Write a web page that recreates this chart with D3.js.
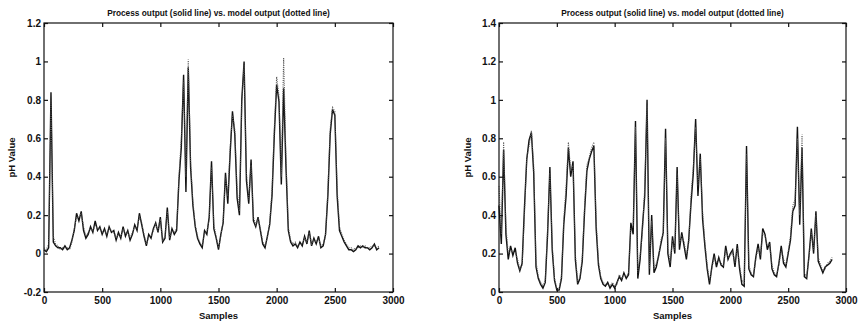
<!DOCTYPE html>
<html>
<head>
<meta charset="utf-8">
<script src="https://cdn.jsdelivr.net/npm/d3@7"></script>
<style>
  body { margin: 0; background: #fff; }
  svg { display: block; }
  text { font-family: "Liberation Sans", Arial, sans-serif; fill: #111; }
</style>
</head>
<body>
<svg id="chart" width="858" height="324"></svg>
<script>
// sample spacing of the values below
const sampleStep = 20;

// left panel
const leftProcess = [
  0.02,0.01,0.03,0.84,0.06,0.04,0.03,0.03,0.02,0.04,
  0.02,0.03,0.07,0.12,0.21,0.17,0.22,0.12,0.08,0.10,
  0.14,0.11,0.17,0.12,0.14,0.10,0.13,0.09,0.14,0.11,
  0.12,0.07,0.11,0.08,0.14,0.09,0.12,0.07,0.10,0.15,
  0.12,0.21,0.15,0.09,0.04,0.10,0.08,0.13,0.16,0.11,
  0.19,0.06,0.08,0.24,0.07,0.13,0.10,0.12,0.38,0.55,
  0.93,0.32,0.97,0.45,0.25,0.14,0.08,0.05,0.03,0.12,
  0.10,0.19,0.48,0.13,0.08,0.02,0.10,0.16,0.42,0.26,
  0.52,0.74,0.62,0.29,0.20,0.80,1.00,0.38,0.26,0.49,
  0.17,0.14,0.19,0.12,0.05,0.03,0.09,0.15,0.30,0.62,
  0.88,0.79,0.36,0.86,0.45,0.12,0.06,0.04,0.05,0.03,
  0.06,0.04,0.09,0.05,0.12,0.04,0.08,0.05,0.09,0.03,
  0.04,0.10,0.30,0.62,0.75,0.72,0.30,0.12,0.09,0.06,
  0.04,0.02,0.02,0.01,0.02,0.04,0.03,0.04,0.03,0.03,
  0.02,0.03,0.05,0.02,0.03
];
const leftModel = [
  0.03,0.02,0.05,0.80,0.09,0.05,0.04,0.02,0.03,0.03,
  0.03,0.02,0.06,0.13,0.19,0.19,0.21,0.14,0.09,0.11,
  0.13,0.12,0.15,0.13,0.13,0.11,0.12,0.10,0.13,0.12,
  0.11,0.08,0.10,0.09,0.13,0.10,0.11,0.08,0.11,0.14,
  0.13,0.19,0.16,0.10,0.05,0.09,0.09,0.12,0.15,0.12,
  0.18,0.07,0.09,0.22,0.08,0.12,0.11,0.13,0.40,0.60,
  0.90,0.40,1.01,0.48,0.27,0.15,0.09,0.06,0.04,0.11,
  0.11,0.18,0.45,0.15,0.09,0.03,0.09,0.17,0.40,0.30,
  0.55,0.72,0.65,0.33,0.22,0.78,0.98,0.42,0.28,0.46,
  0.19,0.15,0.18,0.13,0.06,0.04,0.08,0.16,0.33,0.66,
  0.92,0.82,0.40,1.02,0.50,0.14,0.07,0.05,0.06,0.04,
  0.05,0.05,0.08,0.06,0.11,0.05,0.07,0.06,0.08,0.04,
  0.05,0.09,0.33,0.65,0.76,0.74,0.34,0.14,0.10,0.07,
  0.05,0.03,0.03,0.02,0.03,0.03,0.04,0.03,0.04,0.03,
  0.03,0.04,0.04,0.03,0.04
];
const leftYTicks = [-0.2, 0, 0.2, 0.4, 0.6, 0.8, 1, 1.2];
const leftYLabels = ["-0.2", "0", "0.2", "0.4", "0.6", "0.8", "1", "1.2"];

// right panel
const rightProcess = [
  0.45,0.25,0.74,0.30,0.17,0.24,0.19,0.23,0.15,0.11,
  0.15,0.44,0.69,0.79,0.83,0.62,0.13,0.07,0.04,0.02,
  0.05,0.30,0.65,0.22,0.06,0.01,0.01,0.07,0.35,0.50,
  0.75,0.60,0.68,0.17,0.04,0.07,0.16,0.42,0.63,0.69,
  0.73,0.76,0.33,0.14,0.07,0.04,0.03,0.05,0.02,0.04,
  0.02,0.05,0.08,0.06,0.10,0.07,0.09,0.36,0.30,0.89,
  0.07,0.17,0.34,0.50,1.00,0.09,0.40,0.10,0.13,0.19,
  0.25,0.31,0.85,0.20,0.13,0.29,0.20,0.65,0.22,0.31,
  0.24,0.17,0.27,0.46,0.62,0.90,0.50,0.72,0.38,0.24,
  0.12,0.04,0.13,0.20,0.13,0.18,0.14,0.13,0.24,0.17,
  0.20,0.22,0.13,0.25,0.12,0.04,0.03,0.76,0.12,0.09,
  0.08,0.18,0.25,0.17,0.33,0.30,0.22,0.26,0.12,0.09,
  0.08,0.15,0.24,0.15,0.13,0.20,0.27,0.42,0.45,0.86,
  0.35,0.75,0.08,0.07,0.19,0.33,0.20,0.42,0.16,0.13,
  0.10,0.13,0.14,0.15,0.17
];
const rightModel = [
  0.55,0.30,0.78,0.34,0.20,0.22,0.21,0.21,0.17,0.12,
  0.14,0.40,0.70,0.76,0.84,0.66,0.16,0.08,0.05,0.03,
  0.06,0.33,0.62,0.25,0.07,0.02,0.02,0.08,0.38,0.55,
  0.78,0.63,0.66,0.20,0.05,0.08,0.18,0.45,0.66,0.70,
  0.75,0.78,0.37,0.16,0.08,0.05,0.04,0.04,0.03,0.05,
  0.03,0.04,0.09,0.07,0.09,0.08,0.10,0.33,0.34,0.86,
  0.10,0.19,0.31,0.55,0.97,0.12,0.37,0.12,0.15,0.18,
  0.27,0.30,0.80,0.23,0.15,0.27,0.22,0.62,0.25,0.29,
  0.26,0.19,0.25,0.50,0.65,0.86,0.55,0.70,0.42,0.26,
  0.14,0.06,0.12,0.18,0.15,0.17,0.15,0.14,0.22,0.18,
  0.19,0.21,0.15,0.23,0.14,0.06,0.05,0.72,0.14,0.10,
  0.09,0.17,0.23,0.19,0.31,0.29,0.24,0.25,0.14,0.10,
  0.09,0.14,0.22,0.17,0.14,0.21,0.29,0.45,0.48,0.80,
  0.40,0.82,0.10,0.08,0.18,0.31,0.22,0.40,0.18,0.14,
  0.11,0.12,0.15,0.16,0.18
];
const rightYTicks = [0, 0.2, 0.4, 0.6, 0.8, 1, 1.2, 1.4];
const rightYLabels = ["0", "0.2", "0.4", "0.6", "0.8", "1", "1.2", "1.4"];

// shared x axis
const xTicks = [0, 500, 1000, 1500, 2000, 2500, 3000];
const xLabels = ["0", "500", "1000", "1500", "2000", "2500", "3000"];

const titleText = "Process output (solid line) vs. model output (dotted line)";
const xTitle = "Samples";
const yTitle = "pH Value";

const svg = d3.select("#chart");

function drawPanel(p) {
  const x = d3.scaleLinear().domain([0, 3000]).range([p.left, p.right]);
  const y = d3.scaleLinear().domain(p.yDomain).range([p.bottom, p.top]);
  const g = svg.append("g");

  const line = d3.line()
    .x((d, i) => x(i * sampleStep))
    .y(d => y(d));

  // process output
  g.append("path")
    .datum(p.process)
    .attr("fill", "none")
    .attr("stroke", "#111")
    .attr("stroke-width", 1.4)
    .attr("stroke-linejoin", "miter")
    .attr("d", line);

  // model output
  g.append("path")
    .datum(p.model)
    .attr("fill", "none")
    .attr("stroke", "#555")
    .attr("stroke-width", 1.1)
    .attr("stroke-dasharray", "1,1.2")
    .attr("d", line);

  // inward ticks on all four sides, matlab style
  const fmtX = d => xLabels[xTicks.indexOf(d)];
  const fmtY = d => p.yLabels[p.yTicks.indexOf(d)];

  const bottom = g.append("g")
    .attr("transform", "translate(0," + p.bottom + ")")
    .call(d3.axisBottom(x).tickValues(xTicks).tickFormat(fmtX).tickSizeInner(-4).tickSizeOuter(0).tickPadding(5));
  const leftAx = g.append("g")
    .attr("transform", "translate(" + p.left + ",0)")
    .call(d3.axisLeft(y).tickValues(p.yTicks).tickFormat(fmtY).tickSizeInner(-4).tickSizeOuter(0).tickPadding(3));
  const topAx = g.append("g")
    .attr("transform", "translate(0," + p.top + ")")
    .call(d3.axisTop(x).tickValues(xTicks).tickFormat("").tickSizeInner(-4).tickSizeOuter(0));
  const rightAx = g.append("g")
    .attr("transform", "translate(" + p.right + ",0)")
    .call(d3.axisRight(y).tickValues(p.yTicks).tickFormat("").tickSizeInner(-4).tickSizeOuter(0));

  [bottom, leftAx, topAx, rightAx].forEach(a => {
    a.select(".domain").remove();
    a.selectAll("line").attr("stroke", "#111").attr("stroke-width", 1.2);
    a.selectAll("text")
      .style("font-family", "'Liberation Sans', Arial, sans-serif")
      .style("font-size", "10px")
      .style("font-weight", "bold")
      .attr("fill", "#222");
  });

  // box
  g.append("rect")
    .attr("x", p.left).attr("y", p.top)
    .attr("width", p.right - p.left).attr("height", p.bottom - p.top)
    .attr("fill", "none").attr("stroke", "#111").attr("stroke-width", 1.2);

  const cx = (p.left + p.right) / 2;
  g.append("text")
    .attr("x", cx).attr("y", 16)
    .attr("text-anchor", "middle")
    .style("font-size", "8.3px")
    .style("font-weight", "bold")
    .text(titleText);

  g.append("text")
    .attr("x", cx).attr("y", 319)
    .attr("text-anchor", "middle")
    .style("font-size", "9.5px")
    .style("font-weight", "bold")
    .text(xTitle);

  g.append("text")
    .attr("transform", "translate(" + p.yTitleX + "," + ((p.top + p.bottom) / 2) + ") rotate(-90)")
    .attr("text-anchor", "middle")
    .style("font-size", "9.5px")
    .style("font-weight", "bold")
    .text(yTitle);
}

drawPanel({
  left: 44, right: 393, top: 23, bottom: 292,
  yDomain: [-0.2, 1.2], yTicks: leftYTicks, yLabels: leftYLabels,
  process: leftProcess, model: leftModel, yTitleX: 15
});

drawPanel({
  left: 499, right: 846, top: 23, bottom: 292,
  yDomain: [0, 1.4], yTicks: rightYTicks, yLabels: rightYLabels,
  process: rightProcess, model: rightModel, yTitleX: 471
});
</script>
</body>
</html>
